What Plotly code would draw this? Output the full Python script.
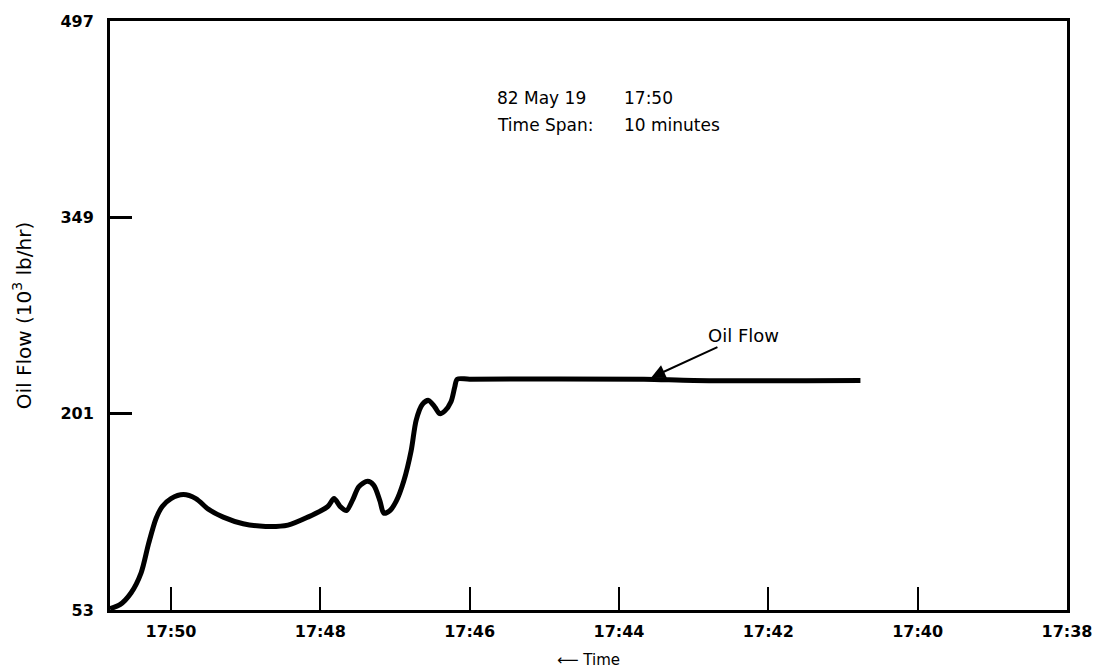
import plotly.graph_objects as go

# Oil flow trend, 82 May 19 (time runs right-to-left)
times = [
    "17:50:49", "17:50:41", "17:50:32", "17:50:24", "17:50:18", "17:50:12",
    "17:50:07", "17:50:00", "17:49:50", "17:49:40", "17:49:30", "17:49:18",
    "17:49:02", "17:48:44", "17:48:26", "17:48:10", "17:47:54", "17:47:49",
    "17:47:44", "17:47:39", "17:47:34", "17:47:29", "17:47:22", "17:47:17",
    "17:47:12", "17:47:09", "17:47:04", "17:46:59", "17:46:53", "17:46:47",
    "17:46:43", "17:46:38", "17:46:33", "17:46:28", "17:46:24", "17:46:20",
    "17:46:15", "17:46:12", "17:46:10", "17:46:00", "17:43:40", "17:43:00",
    "17:40:46",
]
oil_flow = [
    54, 57, 66, 81, 103, 122,
    131, 137, 140, 137, 129, 123,
    118, 116, 117, 123, 131, 137,
    131, 128, 136, 146, 150, 147,
    135, 126, 128, 135, 150, 173,
    196, 208, 211, 206, 201, 203,
    210, 221, 227, 227, 227, 226,
    226,
]

y_ticks = [53, 201, 349, 497]
x_ticks = ["17:50", "17:48", "17:46", "17:44", "17:42", "17:40", "17:38"]

day = "1982-05-19 "
x_vals = [day + t for t in times]

fig = go.Figure()
fig.add_trace(go.Scatter(
    x=x_vals, y=oil_flow, mode="lines",
    line=dict(color="black", width=5, shape="spline", smoothing=0.8),
    hoverinfo="skip", showlegend=False,
))

font_family = "DejaVu Sans, Arial, sans-serif"

fig.update_layout(
    width=1104, height=672,
    margin=dict(l=110, r=27, t=15, b=62),
    paper_bgcolor="white", plot_bgcolor="white",
    font=dict(family=font_family, color="black", size=16),
    xaxis=dict(
        type="date",
        range=[day + "17:50:49", day + "17:38:00"],
        tickvals=[day + t + ":00" for t in x_ticks],
        ticktext=x_ticks,
        ticks="inside", ticklen=23, tickwidth=2, tickcolor="black",
        showline=True, linewidth=3, linecolor="black", mirror=True,
        showgrid=False, zeroline=False,
        tickfont=dict(family=font_family, size=16, color="black", weight="bold"),
        ticklabelstandoff=5,
    ),
    yaxis=dict(
        range=[53, 497],
        tickvals=y_ticks,
        ticktext=[str(v) for v in y_ticks],
        ticks="inside", ticklen=22, tickwidth=3, tickcolor="black",
        showline=True, linewidth=3, linecolor="black", mirror=True,
        showgrid=False, zeroline=False,
        tickfont=dict(family=font_family, size=16, color="black", weight="bold"),
        ticklabelstandoff=10,
        title=dict(text="Oil Flow (10<sup>3</sup> lb/hr)",
                   font=dict(family=font_family, size=20), standoff=24),
    ),
)

# Header text block
header_font = dict(size=17)
row1_y = (610 - 93) / 595
row2_y = (610 - 120) / 595
col1_x = (499 - 110) / 967
col2_x = (627 - 110) / 967
for x, y, txt in [
    (col1_x, row1_y, "82 May 19"),
    (col2_x, row1_y, "17:50"),
    (col1_x, row2_y, "Time Span:"),
    (col2_x, row2_y, "10 minutes"),
]:
    fig.add_annotation(
        xref="paper", yref="paper", x=x, y=y,
        xanchor="left", yanchor="middle", showarrow=False,
        text=txt, font=header_font,
    )

# Series label with arrow pointing at the flat section
fig.add_annotation(
    x=day + "17:43:37", y=227,
    text="Oil Flow", font=dict(size=18),
    showarrow=True, arrowhead=2, arrowsize=1.4, arrowwidth=2, arrowcolor="black",
    ax=96, ay=-44, standoff=4,
)

# Axis caption under the time axis
fig.add_annotation(
    xref="paper", yref="paper", x=0.5, y=0, yshift=-50,
    xanchor="center", yanchor="middle", showarrow=False,
    text="\u27f5 Time", font=dict(size=15),
)

fig.write_html("out.html")
